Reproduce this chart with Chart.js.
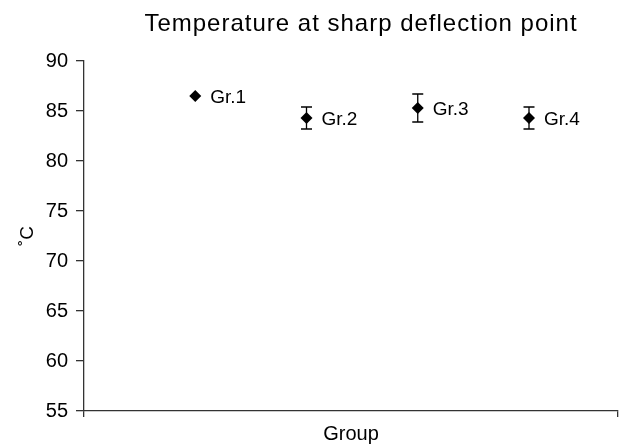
<!DOCTYPE html>
<html>
<head>
<meta charset="utf-8">
<script src="https://cdn.jsdelivr.net/npm/chart.js@4"></script>
<style>
html,body{margin:0;padding:0;background:#fff;}
#wrap{width:624px;height:448px;}
</style>
</head>
<body>
<div id="wrap"><canvas id="c" width="624" height="448"></canvas></div>
<script>
const groups = ['Gr.1', 'Gr.2', 'Gr.3', 'Gr.4'];
const groupPos = [1, 2, 3, 4];
const meanTemp = [86.5, 84.3, 85.3, 84.3];
const errTemp = [0, 1.1, 1.4, 1.1];
const yTicks = [55, 60, 65, 70, 75, 80, 85, 90];
const chartTitle = 'Temperature at sharp deflection point';
const xTitle = 'Group';
const yTitle = '\u02DAC';

const FONT = 'Liberation Sans, Arial, Helvetica, sans-serif';

const extrasPlugin = {
  id: 'extras',
  afterDatasetsDraw(chart) {
    const ctx = chart.ctx;
    const xs = chart.scales.x, ys = chart.scales.y;
    ctx.save();
    // error bars
    ctx.strokeStyle = '#000';
    ctx.lineWidth = 1.3;
    groupPos.forEach((p, i) => {
      if (!errTemp[i]) return;
      const x = xs.getPixelForValue(p);
      const y1 = ys.getPixelForValue(meanTemp[i] + errTemp[i]);
      const y2 = ys.getPixelForValue(meanTemp[i] - errTemp[i]);
      ctx.beginPath();
      ctx.moveTo(x, y1); ctx.lineTo(x, y2);
      ctx.moveTo(x - 5.5, y1); ctx.lineTo(x + 5.5, y1);
      ctx.moveTo(x - 5.5, y2); ctx.lineTo(x + 5.5, y2);
      ctx.stroke();
    });
    // point labels
    ctx.fillStyle = '#000';
    ctx.font = '19px ' + FONT;
    ctx.textAlign = 'left';
    ctx.textBaseline = 'alphabetic';
    groupPos.forEach((p, i) => {
      const x = xs.getPixelForValue(p);
      const y = ys.getPixelForValue(meanTemp[i]);
      ctx.fillText(groups[i], x + 15, y + 7);
    });
    // chart title
    ctx.font = '24px ' + FONT;
    try { ctx.letterSpacing = '1px'; } catch (e) {}
    ctx.textAlign = 'center';
    ctx.fillText(chartTitle, 361, 31);
    ctx.restore();
  }
};

new Chart(document.getElementById('c'), {
  type: 'scatter',
  data: {
    datasets: [{
      data: groupPos.map((p, i) => ({x: p, y: meanTemp[i]})),
      pointStyle: 'rectRot',
      pointRadius: 6,
      pointHoverRadius: 6,
      backgroundColor: '#000',
      borderColor: '#000',
      borderWidth: 0
    }]
  },
  options: {
    responsive: false,
    animation: false,
    events: [],
    layout: {padding: {top: 61, right: 3, left: 0, bottom: 0}},
    plugins: {legend: {display: false}, tooltip: {enabled: false}, title: {display: false}},
    scales: {
      x: {
        type: 'linear',
        min: 0, max: 4.8,
        afterBuildTicks(s) { s.ticks = [{value: 0}, {value: 4.8}]; },
        afterFit(s) { s.height = 37; },
        grid: {display: true, drawOnChartArea: false, drawTicks: true, tickLength: 6, color: '#333', lineWidth: 1.3},
        border: {display: true, color: '#333', width: 1.3},
        ticks: {display: true, callback: () => '', padding: 0},
        title: {display: true, text: xTitle, color: '#000', font: {size: 20, family: FONT}, padding: {bottom: 2, top: 0}}
      },
      y: {
        min: 55, max: 90,
        afterBuildTicks(s) { s.ticks = yTicks.map(v => ({value: v})); },
        afterFit(s) { s.width = 84; },
        grid: {display: true, drawOnChartArea: false, drawTicks: true, tickLength: 8, color: '#333', lineWidth: 1.3},
        border: {display: true, color: '#333', width: 1.3},
        ticks: {color: '#000', font: {size: 20, family: FONT}, padding: 8},
        title: {display: true, text: yTitle, color: '#000', font: {size: 19, family: FONT}, padding: {top: 16}}
      }
    }
  },
  plugins: [extrasPlugin]
});
</script>
</body>
</html>
